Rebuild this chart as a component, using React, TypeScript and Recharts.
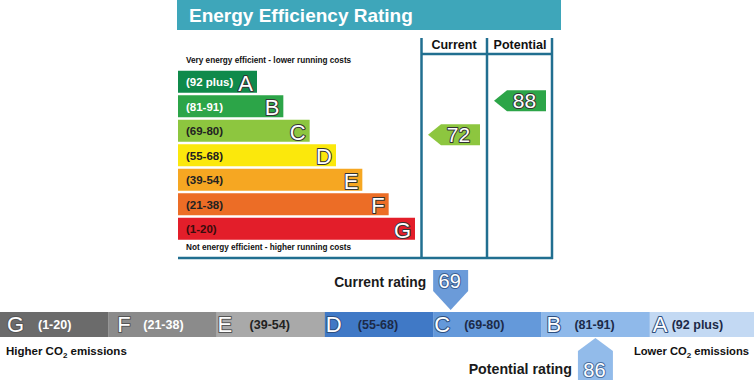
import React from "react";
import { Bar, BarChart, ComposedChart, XAxis, YAxis } from "recharts";

// energy efficiency bands, best first
const BANDS = ["A", "B", "C", "D", "E", "F", "G"];
const RANGES = ["(92 plus)", "(81-91)", "(69-80)", "(55-68)", "(39-54)", "(21-38)", "(1-20)"];
const RANGE_LO = [92, 81, 69, 55, 39, 21, 1];
const RANGE_HI = [100, 91, 80, 68, 54, 38, 20];
const BAR_LENGTH = [3, 4, 5, 6, 7, 8, 9];

const CURRENT_ENERGY = 72;
const POTENTIAL_ENERGY = 88;
const CURRENT_CO2 = 69;
const POTENTIAL_CO2 = 86;

const ENERGY_COLORS = ["#0f8a4b", "#2ca548", "#8dc63f", "#fbe80c", "#f6a722", "#ec6d26", "#e31e2a"];
const CO2_COLORS = ["#c3d9f3", "#8fb9ea", "#6499da", "#4079c6", "#a9a9a9", "#8b8b8b", "#6b6b6b"];
const CO2_LETTER_DX = [3, 5, 1, 1, 1, 9, 7];
const CO2_LABEL_DX = [22, 33, 31, 33, 33, 35, 38];

const FONT = "'Liberation Sans', Arial, Helvetica, sans-serif";
const LINE = "#216f90";
const ROW_PITCH = 24.5;

const bandOf = (v: number) => RANGE_LO.findIndex((lo, i) => v >= lo && v <= RANGE_HI[i]);

const energyData = BANDS.map((band, i) => ({
  band,
  range: RANGES[i],
  lo: RANGE_LO[i],
  hi: RANGE_HI[i],
  len: BAR_LENGTH[i],
  current: bandOf(CURRENT_ENERGY) === i ? CURRENT_ENERGY : null,
  potential: bandOf(POTENTIAL_ENERGY) === i ? POTENTIAL_ENERGY : null,
}));

// the CO2 strip runs worst to best, left to right
const co2Data = BANDS.map((band, i) => ({
  band,
  idx: i,
  range: RANGES[i],
  lo: RANGE_LO[i],
  hi: RANGE_HI[i],
  seg: 1,
  current: bandOf(CURRENT_CO2) === i ? CURRENT_CO2 : null,
  potential: bandOf(POTENTIAL_CO2) === i ? POTENTIAL_CO2 : null,
})).reverse();

// white glyph with a thin dark rim, like the label letters of the original
function Outlined({ x, y, size, anchor = "start", stroke = "#333", children }: any) {
  return (
    <text
      x={x}
      y={y}
      fontSize={size}
      fontFamily={FONT}
      fill="#fff"
      stroke={stroke}
      strokeWidth={2}
      strokeLinejoin="round"
      paintOrder="stroke"
      textAnchor={anchor}
    >
      {children}
    </text>
  );
}

function EnergyBar(props: any) {
  const { x, y, width, height, payload } = props;
  const i = BANDS.indexOf(payload.band);
  return (
    <g>
      <rect x={x} y={y} width={width} height={height} fill={ENERGY_COLORS[i]} />
      <text x={x + 8} y={y + 15.5} fontSize={11.5} fontWeight="bold" fontFamily={FONT} fill={i < 2 ? "#fff" : i === 6 ? "#3a0c0c" : "#222"}>
        {payload.range}
      </text>
      <Outlined x={x + width - 4} y={y + 20} size={22} anchor="end">
        {payload.band}
      </Outlined>
    </g>
  );
}

function arrowShape(key: "current" | "potential", left: number, right: number) {
  return (props: any) => {
    const { y, height, payload } = props;
    const v = payload[key];
    if (v == null) return <g />;
    const i = BANDS.indexOf(payload.band);
    const frac = (payload.hi - v) / (payload.hi - payload.lo + 1);
    const cy = y + height / 2 + (frac - 0.5) * ROW_PITCH;
    const h = 21;
    const tip = 13;
    const pts = [
      [left, cy],
      [left + tip, cy - h / 2],
      [right, cy - h / 2],
      [right, cy + h / 2],
      [left + tip, cy + h / 2],
    ]
      .map((p) => p.join(","))
      .join(" ");
    return (
      <g>
        <polygon points={pts} fill={ENERGY_COLORS[i]} />
        <Outlined x={(left + tip + right) / 2 - 2} y={cy + 7.5} size={21} anchor="middle">
          {v}
        </Outlined>
      </g>
    );
  };
}

function Co2Segment(props: any) {
  const { x, width, payload, background } = props;
  const top = background ? background.y : 312;
  const h = background ? background.height : 25;
  const i = payload.idx;
  return (
    <g>
      <rect x={x} y={top} width={width + 0.5} height={h} fill={CO2_COLORS[i]} />
      <Outlined x={x + CO2_LETTER_DX[i]} y={top + 19.5} size={22} stroke={i >= 4 ? "#555" : "#2d4f80"}>
        {payload.band}
      </Outlined>
      <text x={x + CO2_LABEL_DX[i]} y={top + 17} fontSize={12.5} fontWeight="bold" fontFamily={FONT} fill={i >= 5 ? "#fff" : i === 4 ? "#222" : "#1c2a48"}>
        {payload.range}
      </text>
    </g>
  );
}

const MARKER_W = 35;

function co2Marker(key: "current" | "potential") {
  return (props: any) => {
    const { x, width, payload, background } = props;
    const v = payload[key];
    if (v == null) return <g />;
    const top = background ? background.y : 312;
    const bottom = background ? background.y + background.height : 337;
    const frac = (v - payload.lo) / (payload.hi - payload.lo);
    const l = x + frac * (width - MARKER_W);
    const r = l + MARKER_W;
    const c = (l + r) / 2;
    if (key === "current") {
      const pts = `${l},${top - 42} ${r},${top - 42} ${r},${top - 21} ${c},${top - 2} ${l},${top - 21}`;
      return (
        <g>
          <polygon points={pts} fill="#6b9bd9" />
          <Outlined x={c - 1} y={top - 24.5} size={20} anchor="middle" stroke="#3a5f92">
            {v}
          </Outlined>
          <text x={l - 7} y={top - 25} textAnchor="end" fontSize={13.8} fontWeight="bold" fontFamily={FONT} fill="#1a1a1a">
            Current rating
          </text>
        </g>
      );
    }
    const pts = `${c},${bottom + 1} ${r},${bottom + 14} ${r},${bottom + 60} ${l},${bottom + 60} ${l},${bottom + 14}`;
    return (
      <g>
        <polygon points={pts} fill="#92bbea" />
        <Outlined x={c - 1} y={bottom + 40} size={20} anchor="middle" stroke="#4a6f9f">
          {v}
        </Outlined>
        <text x={l - 6} y={bottom + 37} textAnchor="end" fontSize={14.2} fontWeight="bold" fontFamily={FONT} fill="#1a1a1a">
          Potential rating
        </text>
      </g>
    );
  };
}

export default function App() {
  return (
    <div style={{ position: "absolute", left: 0, top: 0, width: 754, height: 380, background: "#fff", overflow: "hidden" }}>
      <div style={{ position: "absolute", left: 0, top: 0 }}>
        <ComposedChart
          layout="vertical"
          width={754}
          height={265}
          data={energyData}
          margin={{ top: 69.75, bottom: 23.75, left: 178, right: 339 }}
        >
          <XAxis xAxisId="len" type="number" domain={[0, 9]} hide />
          <YAxis yAxisId="len" type="category" dataKey="band" hide />
          <XAxis xAxisId="cur" type="number" domain={[0, 100]} hide />
          <YAxis yAxisId="cur" type="category" dataKey="band" hide />
          <XAxis xAxisId="pot" type="number" domain={[0, 100]} hide />
          <YAxis yAxisId="pot" type="category" dataKey="band" hide />

          <rect x={177} y={0} width={384} height={30} fill="#3ea6ba" />
          <text x={189} y={22} fontSize={19} fontWeight="bold" fontFamily={FONT} fill="#fff">
            Energy Efficiency Rating
          </text>
          <text x={186} y={63} fontSize={8.2} fontWeight="bold" fontFamily={FONT} fill="#111">
            Very energy efficient - lower running costs
          </text>
          <text x={186} y={250} fontSize={8.2} fontWeight="bold" fontFamily={FONT} fill="#111">
            Not energy efficient - higher running costs
          </text>
          <line x1={421.5} y1={38} x2={421.5} y2={259} stroke={LINE} strokeWidth={2.5} />
          <line x1={487} y1={38} x2={487} y2={259} stroke={LINE} strokeWidth={2.5} />
          <line x1={552} y1={38} x2={552} y2={259} stroke={LINE} strokeWidth={2.5} />
          <line x1={421} y1={54} x2={552} y2={54} stroke={LINE} strokeWidth={2.5} />
          <line x1={178} y1={258} x2={553} y2={258} stroke={LINE} strokeWidth={2.5} />
          <text x={454} y={49} textAnchor="middle" fontSize={12.5} fontWeight="bold" fontFamily={FONT} fill="#111">
            Current
          </text>
          <text x={520} y={49} textAnchor="middle" fontSize={12.5} fontWeight="bold" fontFamily={FONT} fill="#111">
            Potential
          </text>

          <Bar xAxisId="len" yAxisId="len" dataKey="len" barSize={22} shape={EnergyBar} isAnimationActive={false} />
          <Bar xAxisId="cur" yAxisId="cur" dataKey="current" barSize={22} shape={arrowShape("current", 428, 480)} isAnimationActive={false} />
          <Bar xAxisId="pot" yAxisId="pot" dataKey="potential" barSize={22} shape={arrowShape("potential", 494, 546)} isAnimationActive={false} />
        </ComposedChart>
      </div>

      <div style={{ position: "absolute", left: 0, top: 0, width: 754, height: 380, overflow: "hidden" }}>
        <BarChart width={758} height={380} data={co2Data} barCategoryGap={0} barGap={0} margin={{ top: 312, bottom: 43, left: 0, right: 0 }}>
          <XAxis xAxisId="seg" type="category" dataKey="band" hide />
          <YAxis yAxisId="seg" type="number" domain={[0, 1]} hide />
          <XAxis xAxisId="cur" type="category" dataKey="band" hide />
          <YAxis yAxisId="cur" type="number" domain={[0, 100]} hide />
          <XAxis xAxisId="pot" type="category" dataKey="band" hide />
          <YAxis yAxisId="pot" type="number" domain={[0, 100]} hide />

          <text x={6} y={355} fontSize={11.5} fontWeight="bold" fontFamily={FONT} fill="#111">
            Higher CO<tspan dy={3} fontSize={8}>2</tspan>
            <tspan dy={-3}> emissions</tspan>
          </text>
          <text x={749} y={355} textAnchor="end" fontSize={11.2} fontWeight="bold" fontFamily={FONT} fill="#111">
            Lower CO<tspan dy={3} fontSize={8}>2</tspan>
            <tspan dy={-3}> emissions</tspan>
          </text>

          <Bar xAxisId="seg" yAxisId="seg" dataKey="seg" shape={Co2Segment} isAnimationActive={false} />
          <Bar xAxisId="cur" yAxisId="cur" dataKey="current" shape={co2Marker("current")} isAnimationActive={false} />
          <Bar xAxisId="pot" yAxisId="pot" dataKey="potential" shape={co2Marker("potential")} isAnimationActive={false} />
        </BarChart>
      </div>
    </div>
  );
}
